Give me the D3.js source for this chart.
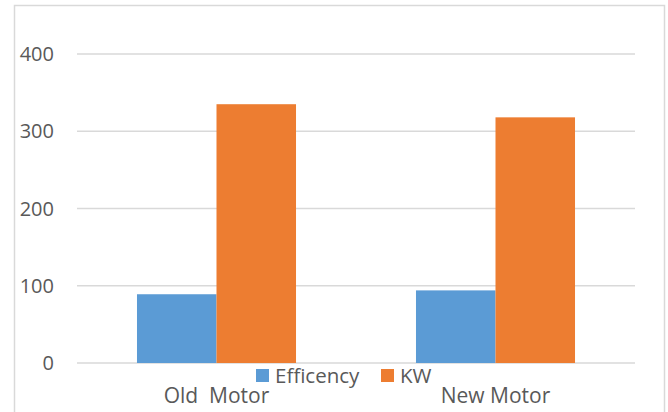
<!DOCTYPE html>
<html>
<head>
<meta charset="utf-8">
<script src="https://cdn.jsdelivr.net/npm/d3@7"></script>
<style>
  html, body { margin: 0; padding: 0; background: #fff; }
  svg { display: block; }
  text { font-family: "Open Sans", sans-serif; fill: #595959; white-space: pre; }
</style>
</head>
<body>
<svg id="chart" width="668" height="412"></svg>
<script>
const categories = ["Old  Motor", "New Motor"];
const seriesNames = ["Efficency", "KW"];
const efficiency = [89, 94];
const kw = [335, 318];
const yTicks = [0, 100, 200, 300, 400];
const colors = ["#5b9bd5", "#ed7d31"];

const svg = d3.select("#chart");
const plot = { left: 77, right: 635, top: 54, bottom: 363 };

// outer frame
svg.append("rect")
  .attr("x", 14.5).attr("y", 5.5)
  .attr("width", 650).attr("height", 420)
  .attr("fill", "#fff").attr("stroke", "#d9d9d9").attr("stroke-width", 1.5);

const y = d3.scaleLinear().domain([0, 400]).range([plot.bottom, plot.top]);
const x0 = d3.scaleBand().domain(categories).range([plot.left, plot.right])
  .paddingInner(0.43).paddingOuter(0.215);
const x1 = d3.scaleBand().domain(seriesNames).range([0, x0.bandwidth()]).padding(0);

// gridlines
svg.append("g").selectAll("line").data(yTicks).join("line")
  .attr("x1", plot.left).attr("x2", plot.right)
  .attr("y1", d => y(d)).attr("y2", d => y(d))
  .attr("stroke", "#d9d9d9").attr("stroke-width", 1.5);

// y tick labels
svg.append("g").selectAll("text").data(yTicks).join("text")
  .attr("x", 54).attr("y", d => y(d)).attr("dy", "0.36em")
  .attr("text-anchor", "end")
  .style("font-size", "20px")
  .text(d => d);

// bars
const rows = categories.map((c, i) => ({ cat: c, vals: [efficiency[i], kw[i]] }));
const g = svg.append("g");
rows.forEach(r => {
  g.selectAll(null).data(r.vals.map((v, j) => ({ name: seriesNames[j], v, j }))).join("rect")
    .attr("x", d => x0(r.cat) + x1(d.name))
    .attr("y", d => y(d.v))
    .attr("width", x1.bandwidth())
    .attr("height", d => y(0) - y(d.v))
    .attr("fill", d => colors[d.j]);
});

// category labels
svg.append("g").selectAll("text").data(categories).join("text")
  .attr("x", d => x0(d) + x0.bandwidth() / 2)
  .attr("y", 395).attr("dy", "0.36em")
  .attr("text-anchor", "middle")
  .style("font-size", "21px")
  .text(d => d);

// legend
const legendX = [256, 381];
const lg = svg.append("g");
seriesNames.forEach((n, i) => {
  lg.append("rect").attr("x", legendX[i]).attr("y", 369).attr("width", 13).attr("height", 13)
    .attr("fill", colors[i]);
  lg.append("text").attr("x", legendX[i] + 19).attr("y", 375.5).attr("dy", "0.36em")
    .style("font-size", "20.5px").text(n);
});
</script>
</body>
</html>
